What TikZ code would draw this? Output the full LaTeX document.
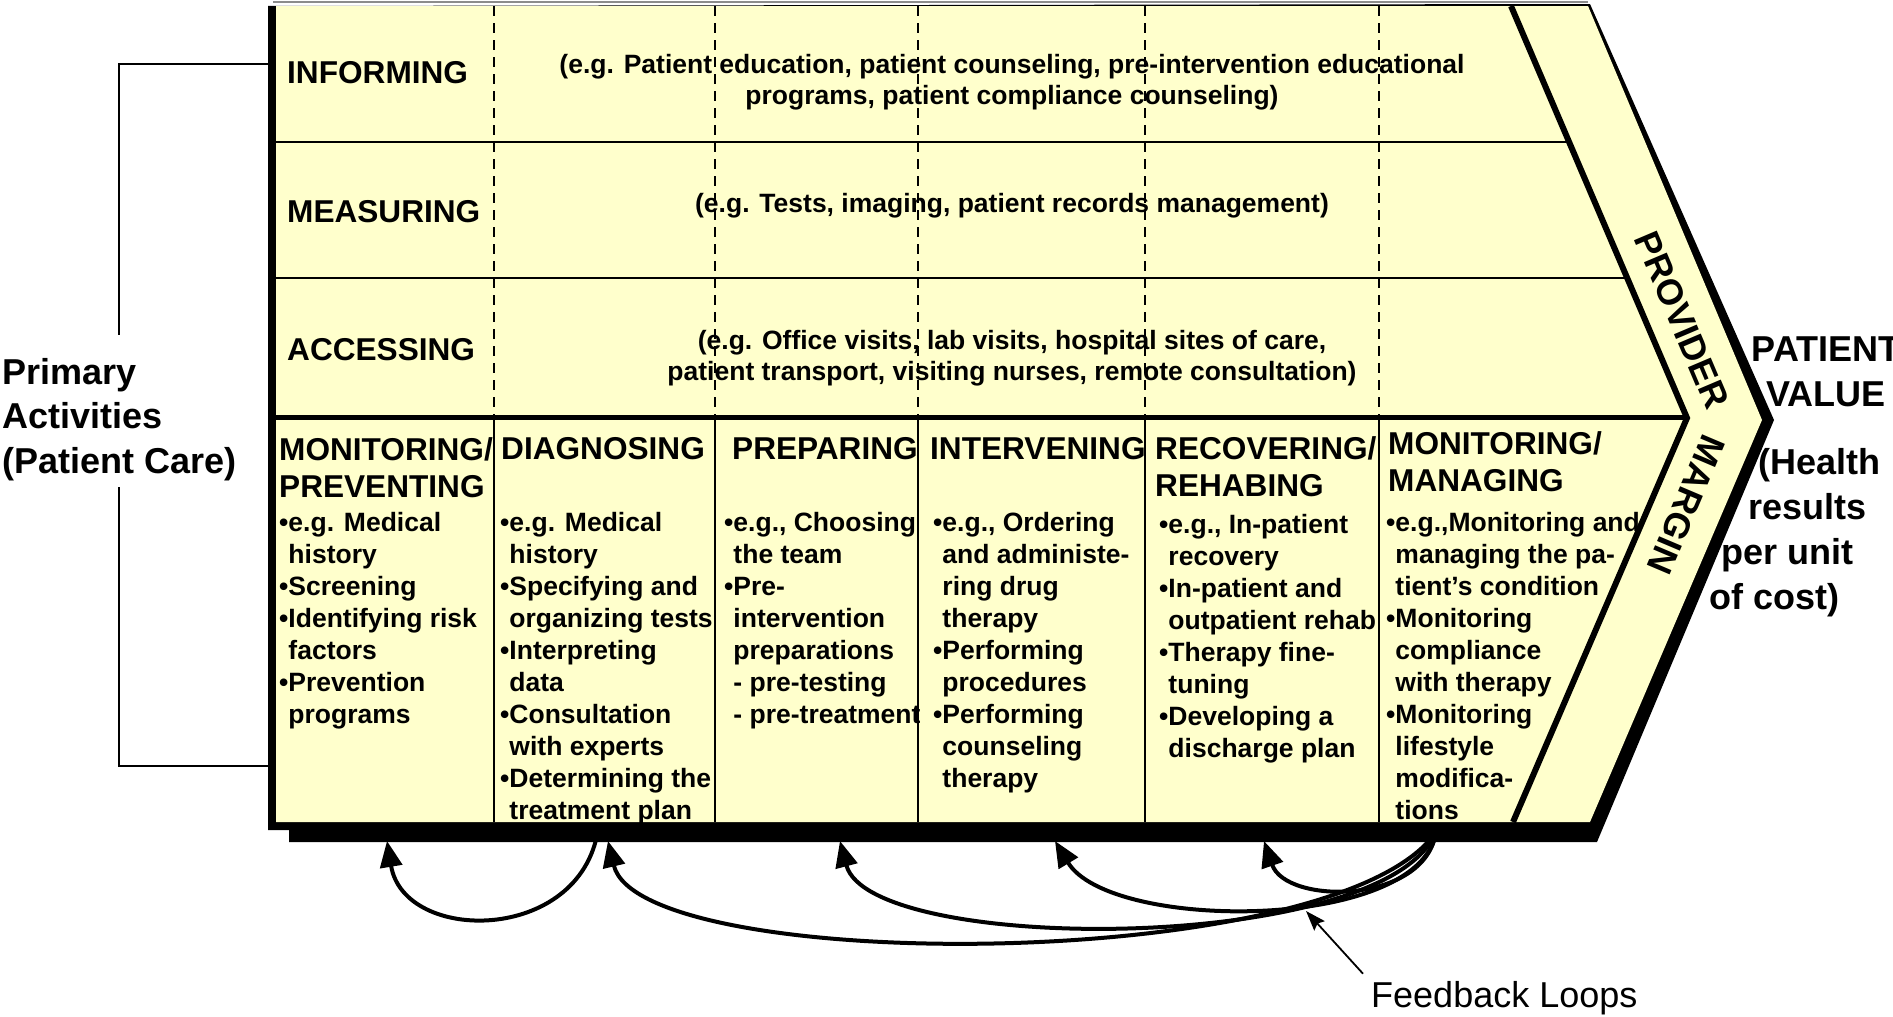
\documentclass[tikz,border=0pt]{standalone}
\usepackage{fontspec}
\setmainfont{Liberation Sans}
\usetikzlibrary{arrows.meta,positioning,calc}

\definecolor{chainyellow}{RGB}{255,255,204}
\definecolor{rimgray}{RGB}{140,140,140}

\newcommand{\bul}{\textbullet}
\newcommand{\ind}{\phantom{\textbullet}}

\begin{document}
\begin{tikzpicture}[x=1pt,y=-1pt,
  head/.style={font=\fontsize{31.6}{37}\selectfont\bfseries, inner sep=0pt, anchor=north west, align=left},
  body/.style={font=\fontsize{26.5}{32}\selectfont\bfseries, inner sep=0pt, anchor=north west, align=left},
  note/.style={font=\fontsize{26.5}{31}\selectfont\bfseries, inner sep=0pt, align=center},
  big/.style={font=\fontsize{36}{44.6}\selectfont\bfseries, inner sep=0pt},
  loop/.style={line width=4pt, -{Triangle[length=26pt,width=22pt]}},
  guide/.style={line width=2pt, dash pattern=on 10pt off 7pt}]
\useasboundingbox (0,0) rectangle (1893,1017);

% Chevron body with its black rim and shadow
\fill (268,6) -- (1590,4) -- (1774,420) -- (1597,842) -- (289,842) -- (289,830) -- (268,830) -- cycle;
\fill[chainyellow] (276,6) -- (1588,6) -- (1762,420) -- (1590,822) -- (276,822) -- cycle;
\draw[rimgray, line width=1.5pt] (273,2) -- (1588,2);

% Margin band
\draw[line width=6pt] (1511,6) -- (1687,418) -- (1513,822);

% Support rows
\draw[line width=2pt] (276,142) -- (1569,142);
\draw[line width=2pt] (276,278) -- (1627,278);
\draw[line width=5pt] (276,417) -- (1687,417);

% Primary activity columns
\foreach \x in {494,715,918,1145,1379}
  \draw[line width=2.5pt] (\x,417) -- (\x,822);

% Row labels
\node[big, font=\fontsize{31.6}{37}\selectfont\bfseries, anchor=base west] (inform) at (287,83.3) {INFORMING};
\node[big, font=\fontsize{31.6}{37}\selectfont\bfseries, anchor=base west] (measure) at (287,222.3) {MEASURING};
\node[big, font=\fontsize{31.6}{37}\selectfont\bfseries, anchor=base west] (access) at (287,360.3) {ACCESSING};

\node[note, anchor=north] (informtxt) at (1012,54.5) {(e.g. Patient education, patient counseling, pre-intervention educational\\programs, patient compliance counseling)};
\node[note, anchor=base] (measuretxt) at (1012,212.5) {(e.g. Tests, imaging, patient records management)};
\node[note, anchor=north] (accesstxt) at (1012,330.5) {(e.g. Office visits, lab visits, hospital sites of care,\\patient transport, visiting nurses, remote consultation)};

% Column headings
\node[head] (prevhd) at (279,437.7) {MONITORING/\\PREVENTING};
\node[head] (diaghd) at (501,437.7) {DIAGNOSING};
\node[head] (prephd) at (732,437.7) {PREPARING};
\node[head] (inthd) at (930,437.7) {INTERVENING};
\node[head] (rechd) at (1155,436.7) {RECOVERING/\\REHABING};
\node[head] (manhd) at (1388,431.7) {MONITORING/\\MANAGING};

% Column items
\node[body] (prevtx) at (279,512) {\bul e.g. Medical\\ \ind history\\ \bul Screening\\ \bul Identifying risk\\ \ind factors\\ \bul Prevention\\ \ind programs};
\node[body] (diagtx) at (500,512) {\bul e.g. Medical\\ \ind history\\ \bul Specifying and\\ \ind organizing tests\\ \bul Interpreting\\ \ind data\\ \bul Consultation\\ \ind with experts\\ \bul Determining the\\ \ind treatment plan};
\node[body] (preptx) at (724,512) {\bul e.g., Choosing\\ \ind the team\\ \bul Pre-\\ \ind intervention\\ \ind preparations\\ \ind - pre-testing\\ \ind - pre-treatment};
\node[body] (inttx) at (933,512) {\bul e.g., Ordering\\ \ind and administe-\\ \ind ring drug\\ \ind therapy\\ \bul Performing\\ \ind procedures\\ \bul Performing\\ \ind counseling\\ \ind therapy};
\node[body] (rectx) at (1159,514.5) {\bul e.g., In-patient\\ \ind recovery\\ \bul In-patient and\\ \ind outpatient rehab\\ \bul Therapy fine-\\ \ind tuning\\ \bul Developing a\\ \ind discharge plan};
\node[body] (mantx) at (1386,512) {\bul e.g.,Monitoring and\\ \ind managing the pa-\\ \ind tient’s condition\\ \bul Monitoring\\ \ind compliance\\ \ind with therapy\\ \bul Monitoring\\ \ind lifestyle\\ \ind modifica-\\ \ind tions};

% Dashed guides through the support rows
\foreach \x in {494,715,918,1145,1379}
  \draw[guide] (\x,6) -- (\x,415);

% Band text
\node[big, rotate=-67] (provider) at (1682,320) {PROVIDER};
\node[big, rotate=-113] (margin) at (1686,505) {MARGIN};

% Left bracket
\node[big, anchor=north west, align=left] (primary) at (2,358) {Primary\\Activities\\(Patient Care)};
\draw[line width=1.5pt] (268,64) -- (119,64) -- (119,335);
\draw[line width=1.5pt] (119,487) -- (119,766) -- (268,766);

% Outcome
\node[big, anchor=north, align=center] (value) at (1826,337) {PATIENT\\VALUE};
\node[big, anchor=base west] (hl1) at (1758,474) {(Health};
\node[big, anchor=base west] (hl2) at (1748,519) {results};
\node[big, anchor=base west] (hl3) at (1721,564) {per unit};
\node[big, anchor=base west] (hl4) at (1709,609) {of cost)};

% Feedback loops
\coordinate (fbPrev) at (387,841);
\coordinate (fbDiagOut) at (598,830);
\coordinate (fbDiag) at (608,841);
\coordinate (fbPrep) at (840,841);
\coordinate (fbInt) at (1055,841);
\coordinate (fbRec) at (1264,841);
\coordinate (fbMan) at (1436,832);
\draw[loop] (fbDiagOut) .. controls (580,944) and (404,944) .. (fbPrev);
\draw[loop] (fbMan) .. controls (1337,975) and (640,975) .. (fbDiag);
\draw[loop] (fbMan) .. controls (1385,955) and (870,955) .. (fbPrep);
\draw[loop] (fbMan) .. controls (1420,932) and (1110,932) .. (fbInt);
\draw[loop] (fbMan) .. controls (1425,905) and (1286,905) .. (fbRec);

\node[font=\fontsize{36}{40}\selectfont, inner sep=0pt, anchor=base west] (fbl) at (1371,1007) {Feedback Loops};
\coordinate (fbPoint) at (1306,911);
\draw[line width=1.8pt, -{Stealth[length=20pt,width=14pt,inset=3pt]}] ($(fbl.north west)+(-8,-7)$) -- (fbPoint);
\end{tikzpicture}
\end{document}
